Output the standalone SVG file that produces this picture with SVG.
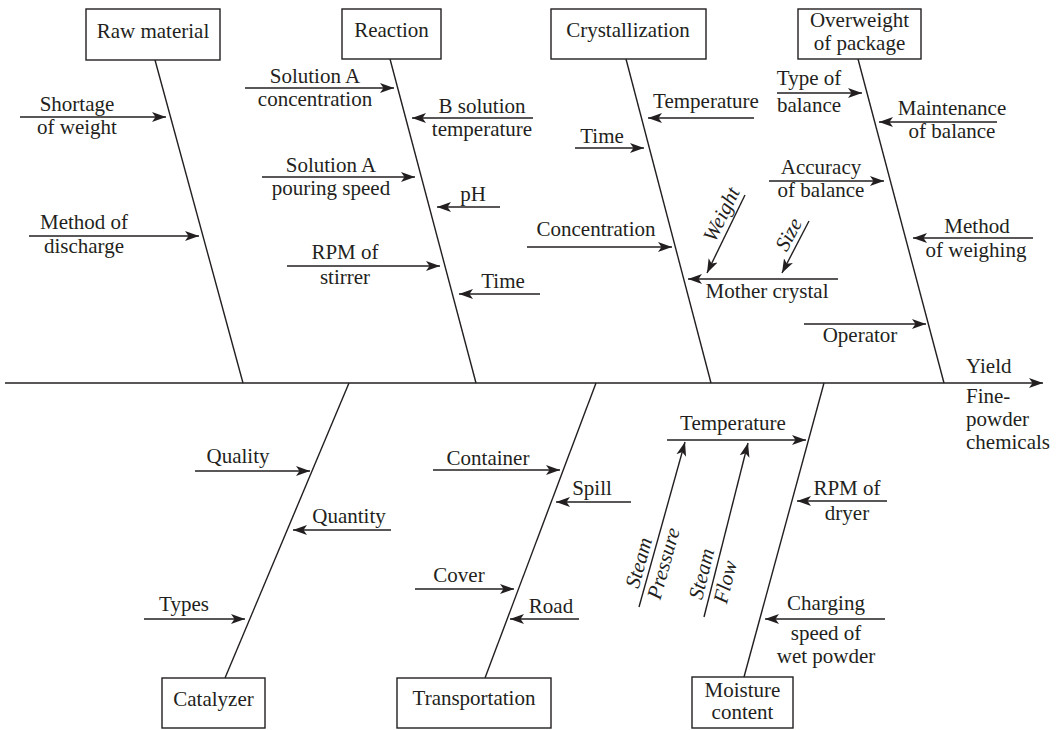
<svg xmlns="http://www.w3.org/2000/svg" width="1064" height="730" viewBox="0 0 1064 730">
<style>
text{font-family:"Liberation Serif","Times New Roman",serif;font-size:21px;fill:#231f20;text-anchor:middle}
.s{text-anchor:start}
.i{font-style:italic}
.box{fill:#fff;stroke:#231f20;stroke-width:1.4}
.ln{stroke:#231f20;stroke-width:1.4;fill:none}
.ar{stroke:#231f20;stroke-width:1.4;fill:none;marker-end:url(#ah)}
</style>
<defs>
<marker id="ah" markerWidth="16" markerHeight="12" refX="14" refY="6" orient="auto" markerUnits="userSpaceOnUse">
<path d="M0,1 L14,6 L0,11 L3.5,6 z" fill="#231f20"/>
</marker>
</defs>
<rect width="1064" height="730" fill="#fff"/>
<g id="connectors">
<line class="ar" x1="5" y1="383" x2="1043" y2="383"/>
<line class="ln" x1="155" y1="60" x2="243" y2="383"/>
<line class="ln" x1="390" y1="59" x2="476" y2="383"/>
<line class="ln" x1="626" y1="59" x2="711" y2="383"/>
<line class="ln" x1="858" y1="59" x2="944" y2="383"/>
<line class="ln" x1="349" y1="383" x2="225" y2="678"/>
<line class="ln" x1="596" y1="383" x2="485" y2="678"/>
<line class="ln" x1="824" y1="383" x2="744" y2="677"/>
<line class="ar" x1="20" y1="117" x2="166" y2="117"/>
<line class="ar" x1="29" y1="236" x2="199" y2="236"/>
<line class="ar" x1="245" y1="88" x2="394" y2="88"/>
<line class="ar" x1="533" y1="118" x2="412" y2="118"/>
<line class="ar" x1="262" y1="177" x2="415" y2="177"/>
<line class="ar" x1="500" y1="207" x2="437" y2="207"/>
<line class="ar" x1="287" y1="266" x2="440" y2="266"/>
<line class="ar" x1="540" y1="294" x2="459" y2="294"/>
<line class="ar" x1="754" y1="118" x2="648" y2="118"/>
<line class="ar" x1="575" y1="148" x2="644" y2="148"/>
<line class="ar" x1="527" y1="247" x2="672" y2="247"/>
<line class="ar" x1="838" y1="279" x2="688" y2="279"/>
<line class="ar" x1="745" y1="195" x2="707" y2="273"/>
<line class="ar" x1="809" y1="221" x2="782" y2="273"/>
<line class="ar" x1="777" y1="93" x2="862" y2="93"/>
<line class="ar" x1="997" y1="122" x2="879" y2="122"/>
<line class="ar" x1="769" y1="181" x2="884" y2="181"/>
<line class="ar" x1="1033" y1="238" x2="913" y2="238"/>
<line class="ar" x1="804" y1="324" x2="926" y2="324"/>
<line class="ar" x1="195" y1="471" x2="310" y2="471"/>
<line class="ar" x1="391" y1="530" x2="293" y2="530"/>
<line class="ar" x1="144" y1="619" x2="245" y2="619"/>
<line class="ar" x1="433" y1="470" x2="560" y2="470"/>
<line class="ar" x1="631" y1="502" x2="556" y2="502"/>
<line class="ar" x1="415" y1="589" x2="514" y2="589"/>
<line class="ar" x1="579" y1="619" x2="510" y2="619"/>
<line class="ar" x1="667" y1="440" x2="806" y2="440"/>
<line class="ar" x1="639" y1="607" x2="685" y2="442"/>
<line class="ar" x1="704" y1="617" x2="748" y2="443"/>
<line class="ar" x1="887" y1="501" x2="797" y2="501"/>
<line class="ar" x1="885" y1="619" x2="765" y2="619"/>
</g>
<g id="raw-material"><rect class="box" x="86" y="9" width="134" height="51"/><text x="153" y="38">Raw material</text></g>
<g id="reaction"><rect class="box" x="342" y="9" width="99" height="50"/><text x="391.5" y="37">Reaction</text></g>
<g id="crystallization"><rect class="box" x="551" y="9" width="155" height="50"/><text x="628" y="37">Crystallization</text></g>
<g id="overweight"><rect class="box" x="798" y="9" width="123" height="50"/><text x="859.5" y="27">Overweight</text><text x="859.5" y="50">of package</text></g>
<g id="catalyzer"><rect class="box" x="162" y="678" width="103" height="50"/><text x="213.5" y="706">Catalyzer</text></g>
<g id="transportation"><rect class="box" x="397" y="678" width="154" height="50"/><text x="474" y="705">Transportation</text></g>
<g id="moisture"><rect class="box" x="692" y="677" width="101" height="51"/><text x="742.5" y="697">Moisture</text><text x="742.5" y="719">content</text></g>
<g id="shortage"><text x="77" y="111">Shortage</text><text x="77" y="134">of weight</text></g>
<g id="method-discharge"><text x="84" y="229">Method of</text><text x="84" y="253">discharge</text></g>
<g id="sol-a-conc"><text x="315" y="83">Solution A</text><text x="315" y="106">concentration</text></g>
<g id="b-sol-temp"><text x="482" y="113">B solution</text><text x="482" y="136">temperature</text></g>
<g id="sol-a-pour"><text x="331" y="172">Solution A</text><text x="331" y="195">pouring speed</text></g>
<g id="ph"><text x="473" y="201">pH</text></g>
<g id="rpm-stirrer"><text x="345" y="259">RPM of</text><text x="345" y="284">stirrer</text></g>
<g id="time-r"><text x="503" y="288">Time</text></g>
<g id="temp-c"><text x="706" y="108">Temperature</text></g>
<g id="time-c"><text x="602" y="143">Time</text></g>
<g id="concentration"><text x="596" y="236">Concentration</text></g>
<g id="mother-crystal"><text x="767" y="298">Mother crystal</text></g>
<g id="weight"><text class="i" transform="translate(733,220) rotate(-64)" x="0" y="-6">Weight</text></g>
<g id="size"><text class="i" transform="translate(799,240) rotate(-62)" x="0" y="-5">Size</text></g>
<g id="type-balance"><text x="809" y="85">Type of</text><text x="809" y="112">balance</text></g>
<g id="maint-balance"><text x="952" y="115">Maintenance</text><text x="952" y="138">of balance</text></g>
<g id="acc-balance"><text x="821" y="174">Accuracy</text><text x="821" y="197">of balance</text></g>
<g id="method-weigh"><text x="977" y="233">Method</text><text x="976" y="257">of weighing</text></g>
<g id="operator"><text x="860" y="342">Operator</text></g>
<g id="yield"><text class="s" x="966" y="373">Yield</text><text class="s" x="966" y="403">Fine-</text><text class="s" x="966" y="426">powder</text><text class="s" x="966" y="449">chemicals</text></g>
<g id="quality"><text x="238" y="463">Quality</text></g>
<g id="quantity"><text x="349" y="523">Quantity</text></g>
<g id="types"><text x="184" y="611">Types</text></g>
<g id="container"><text x="488" y="465">Container</text></g>
<g id="spill"><text x="592" y="495">Spill</text></g>
<g id="cover"><text x="459" y="582">Cover</text></g>
<g id="road"><text x="551" y="613">Road</text></g>
<g id="temp-m"><text x="733" y="430">Temperature</text></g>
<g id="steam-pressure"><g transform="translate(651,563) rotate(-74.5)"><text class="i" x="-3" y="-5">Steam</text><text class="i" x="3" y="19">Pressure</text></g></g>
<g id="steam-flow"><g transform="translate(714,577) rotate(-76)"><text class="i" x="0" y="-6">Steam</text><text class="i" x="-2" y="19">Flow</text></g></g>
<g id="rpm-dryer"><text x="847" y="495">RPM of</text><text x="847" y="520">dryer</text></g>
<g id="charging"><text x="826" y="610">Charging</text><text x="826" y="640">speed of</text><text x="826" y="663">wet powder</text></g>
</svg>
